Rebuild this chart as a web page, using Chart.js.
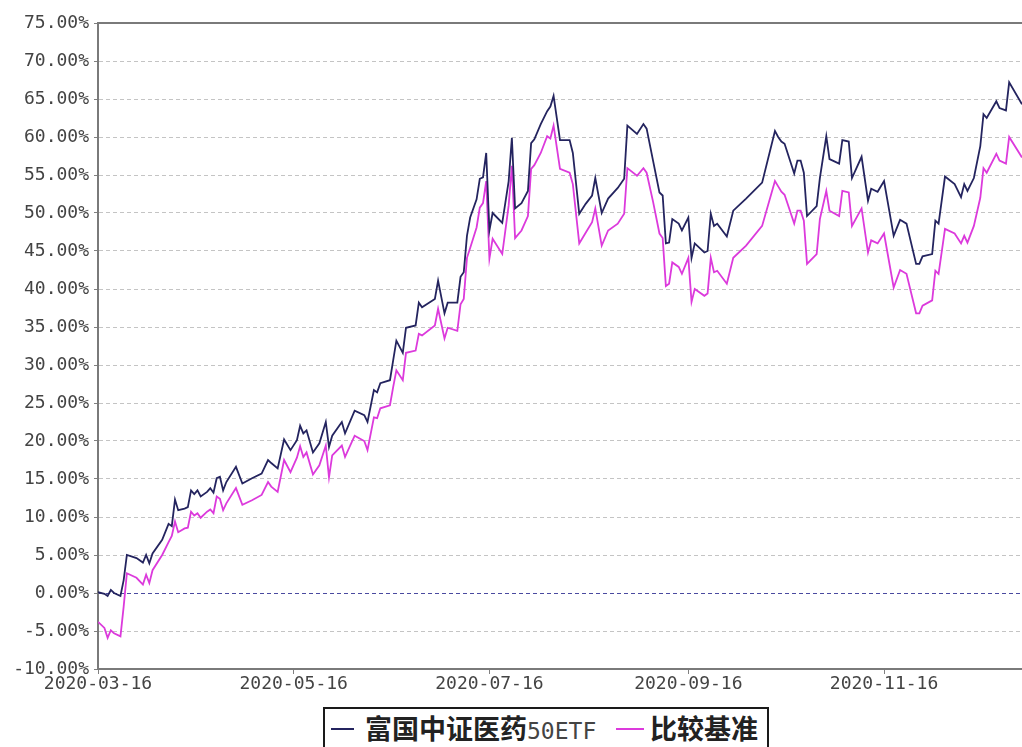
<!DOCTYPE html>
<html>
<head>
<meta charset="utf-8">
<script src="https://cdn.jsdelivr.net/npm/chart.js@4.4.0/dist/chart.umd.min.js"></script>
<style>
  html, body { margin: 0; padding: 0; background: #fff; width: 1022px; height: 747px; overflow: hidden; }
  #wrap { position: relative; width: 1022px; height: 747px; }
  canvas { position: absolute; left: 0; top: 0; }
  #legend { position: absolute; left: 323px; top: 707px; width: 446px; height: 50px; border: 2px solid #1a1a1a; box-sizing: border-box; background: #fff; }
  .mk { position: absolute; height: 2px; top: 19px; }
  .lt { position: absolute; top: 4px; font-family: "Noto Sans CJK SC", sans-serif; font-weight: 700; font-size: 27px; line-height: 30px; color: #222; white-space: nowrap; }
  .lt .lat { font-family: "DejaVu Sans Mono", monospace; font-weight: 400; font-size: 23px; color: #444; }
</style>
</head>
<body>
<div id="wrap">
  <canvas id="c" width="1022" height="747"></canvas>
  <div id="legend"></div>
</div>
<script>
// ---- data ----
const seriesNames = ['富国中证医药50ETF', '比较基准'];
const xTickLabels = ['2020-03-16', '2020-05-16', '2020-07-16', '2020-09-16', '2020-11-16'];
const startDate = '2020-03-16';
const lastDay = 288;
// days since 2020-03-16
const dayOffsets = [0,2,3,4,5,7,8,9,12,14,15,16,17,20,22,23,24,25,27,28,29,30,31,32,34,35,36,37,38,39,40,43,45,48,51,53,54,56,58,60,62,63,64,65,67,69,71,72,73,76,77,80,83,84,86,87,88,91,92,93,95,96,99,100,101,105,106,108,109,112,113,114,115,116,118,119,120,121,122,123,126,128,129,130,132,134,135,136,138,140,141,142,144,147,148,150,152,154,155,157,159,162,164,165,168,170,171,173,175,176,177,178,179,181,182,184,185,186,189,190,191,192,193,196,198,202,207,211,212,213,214,217,218,219,220,221,224,225,227,228,231,232,234,235,238,240,241,243,245,248,250,252,255,256,257,260,261,262,264,267,269,270,271,273,275,276,277,280,281,283,284,288];
const fundValues = [0.1,-0.1,-0.4,0.4,0.0,-0.4,1.7,5.0,4.6,4.0,5.0,3.9,5.2,7.0,9.1,8.8,12.3,10.9,11.1,11.3,13.5,13.0,13.5,12.7,13.3,13.8,13.2,15.1,15.3,13.5,14.6,16.6,14.4,15.1,15.7,17.5,17.1,16.4,20.2,18.8,20.1,22.0,21.0,21.4,18.5,19.7,22.5,19.2,20.7,22.5,21.0,24.0,23.4,22.5,26.7,26.4,27.6,28.0,30.6,33.2,31.6,34.9,35.2,38.2,37.6,38.7,41.1,36.8,38.2,38.2,41.6,42.2,47.0,49.4,51.8,54.5,54.7,57.9,47.7,50.0,48.7,54.2,59.9,50.6,51.3,52.9,59.2,59.7,61.7,63.4,64.0,65.4,59.6,59.6,57.9,49.9,51.2,52.3,54.6,50.0,51.9,53.3,54.5,61.5,60.4,61.7,61.1,56.9,52.7,52.3,46.0,46.1,49.2,48.6,47.7,49.4,44.1,46.0,44.8,45.0,49.9,48.3,48.6,46.9,50.3,51.9,54.0,60.8,60.0,59.4,59.1,55.2,56.9,56.9,55.3,49.6,50.9,54.6,60.1,57.1,56.5,59.6,59.4,54.6,57.4,51.6,53.2,52.8,54.2,47.0,49.1,48.6,43.3,43.3,44.3,44.6,49.0,48.6,54.8,53.8,52.1,53.8,52.9,54.6,58.8,63.0,62.5,64.7,63.8,63.5,67.2,64.3];
const benchValues = [-3.8,-4.6,-5.9,-4.9,-5.3,-5.7,-1.8,2.6,2.0,1.1,2.4,1.3,3.0,5.0,6.7,7.5,9.4,8.0,8.5,8.6,10.7,10.2,10.5,9.9,10.7,11.0,10.5,12.7,12.4,10.9,11.8,13.8,11.6,12.2,12.9,14.6,14.0,13.3,17.5,15.9,17.8,19.3,17.9,18.5,15.6,16.8,19.4,15.2,18.1,19.4,17.9,20.7,20.0,18.8,23.1,23.0,24.3,24.7,27.1,29.3,28.0,31.6,31.9,34.1,33.9,35.2,37.4,33.5,34.9,34.5,38.0,38.7,44.1,45.4,48.1,50.7,51.3,54.2,44.0,46.6,44.6,51.0,56.2,46.7,47.7,49.6,55.8,56.3,57.9,60.1,59.8,61.5,55.8,55.3,53.8,46.0,47.4,48.8,50.6,45.7,47.7,48.6,49.9,55.9,54.9,55.9,55.3,51.5,47.3,46.7,40.4,40.7,43.5,42.9,42.0,44.1,38.3,40.0,39.1,39.4,44.1,42.2,42.4,40.7,44.1,45.7,48.3,54.2,53.5,52.8,52.4,48.6,50.3,50.3,49.0,43.3,44.6,49.2,52.9,50.3,49.6,52.9,52.7,48.3,50.6,44.8,46.4,46.0,47.3,40.2,42.5,42.0,36.8,36.8,37.8,38.5,42.4,42.0,47.9,47.3,46.0,47.0,46.1,48.3,52.0,55.9,55.3,57.8,56.9,56.5,60.0,57.3];
const seriesColors = ['#24245f', '#dc3adc'];

// ---- helpers ----
const DAY = 86400000;
function parseDate(s) { const p = s.split('-').map(Number); return Date.UTC(p[0], p[1] - 1, p[2]); }
const t0 = parseDate(startDate);
function dayOf(s) { return Math.round((parseDate(s) - t0) / DAY); }
function labelOf(d) {
  const dt = new Date(t0 + d * DAY);
  const mm = String(dt.getUTCMonth() + 1).padStart(2, '0');
  const dd = String(dt.getUTCDate()).padStart(2, '0');
  return dt.getUTCFullYear() + '-' + mm + '-' + dd;
}

const tickFont = { family: 'DejaVu Sans Mono', size: 18 };
const tickColor = '#444444';

const topBorder = {
  id: 'topBorder',
  beforeDatasetsDraw(chart) {
    const { ctx, chartArea } = chart;
    ctx.save();
    ctx.strokeStyle = '#7a7a7a';
    ctx.lineWidth = 2;
    ctx.beginPath();
    ctx.moveTo(chartArea.left - 1, chartArea.top);
    ctx.lineTo(chartArea.right, chartArea.top);
    ctx.stroke();
    ctx.restore();
  }
};

new Chart(document.getElementById('c'), {
  type: 'line',
  data: {
    datasets: [fundValues, benchValues].map((vals, k) => ({
      label: seriesNames[k],
      data: dayOffsets.map((d, i) => ({ x: d, y: vals[i] })),
      borderColor: seriesColors[k],
      borderWidth: 1.8,
      pointRadius: 0,
      tension: 0,
      fill: false
    }))
  },
  options: {
    responsive: false,
    animation: false,
    events: [],
    layout: { padding: { top: 23, right: 0, left: 0, bottom: 0 } },
    plugins: { legend: { display: false }, tooltip: { enabled: false } },
    scales: {
      x: {
        type: 'linear',
        min: 0,
        max: lastDay,
        afterBuildTicks: (s) => { s.ticks = xTickLabels.map(l => ({ value: dayOf(l) })); },
        afterFit: (s) => { s.height = 78; },
        ticks: { autoSkip: false, maxRotation: 0, padding: 0, font: tickFont, color: tickColor, callback: (v) => labelOf(v) },
        grid: { drawOnChartArea: false, drawTicks: true, tickLength: 5, tickColor: '#808080' },
        border: { display: true, color: '#7a7a7a', width: 2 }
      },
      y: {
        min: -10,
        max: 75,
        afterFit: (s) => { s.width = 98; },
        ticks: { stepSize: 5, padding: 5, font: tickFont, color: tickColor, callback: (v) => v.toFixed(2) + '%' },
        grid: {
          color: (c) => (c.tick && c.tick.value === 0 ? '#4a4aa0' : '#c4c4c4'),
          lineWidth: 1,
          drawTicks: true,
          tickLength: 4,
          tickColor: '#808080'
        },
        border: { display: true, color: '#7a7a7a', width: 2, dash: [4, 3] }
      }
    }
  },
  plugins: [topBorder]
});

// ---- legend (HTML text) ----
const lg = document.getElementById('legend');
function addMarker(left, width, color) {
  const m = document.createElement('div');
  m.className = 'mk'; m.style.left = left + 'px'; m.style.width = width + 'px'; m.style.background = color;
  lg.appendChild(m);
}
function addText(left, name) {
  const t = document.createElement('div');
  t.className = 'lt'; t.style.left = left + 'px';
  const m = name.match(/^([^A-Za-z0-9]*)([A-Za-z0-9]*)$/);
  if (m && m[2]) {
    t.appendChild(document.createTextNode(m[1]));
    const s = document.createElement('span'); s.className = 'lat'; s.textContent = m[2];
    t.appendChild(s);
  } else {
    t.textContent = name;
  }
  lg.appendChild(t);
}
addMarker(6, 23, seriesColors[0]);
addText(40, seriesNames[0]);
addMarker(291, 28, seriesColors[1]);
addText(325, seriesNames[1]);
</script>
</body>
</html>
